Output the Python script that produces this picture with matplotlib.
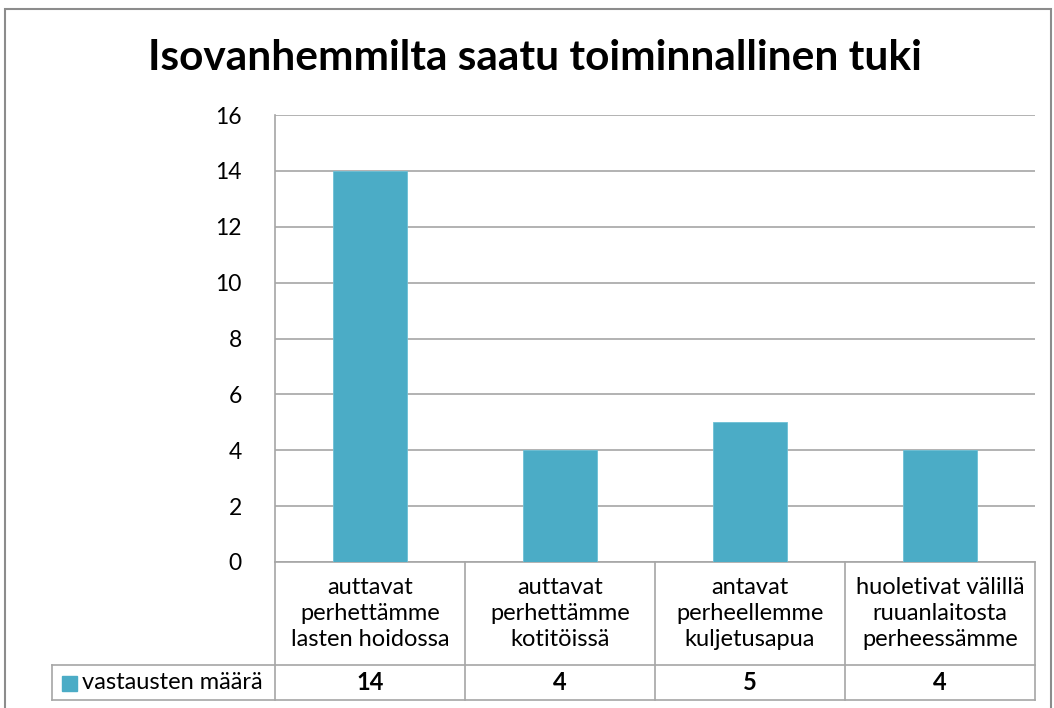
import matplotlib
matplotlib.use("Agg")
import matplotlib.pyplot as plt
import matplotlib.transforms as mtransforms
from matplotlib.patches import Rectangle

TITLE = "Isovanhemmilta saatu toiminnallinen tuki"
CATEGORIES = [
    "auttavat\nperhettämme\nlasten hoidossa",
    "auttavat\nperhettämme\nkotitöissä",
    "antavat\nperheellemme\nkuljetusapua",
    "huoletivat välillä\nruuanlaitosta\nperheessämme",
]
SERIES_NAME = "vastausten määrä"
VALUES = [14, 4, 5, 4]
Y_TICKS = [0, 2, 4, 6, 8, 10, 12, 14, 16]

BAR_COLOR = "#4BACC6"
GRID_COLOR = "#a6a6a6"
FONT = "Lato"

W, H = 1054, 708
fig = plt.figure(figsize=(W / 100, H / 100), dpi=100)

# outer chart border
fig.patches.append(Rectangle((5 / W, -0.05), 1046 / W, 1 - 9 / H + 0.05,
                             transform=fig.transFigure, fill=False,
                             edgecolor="#8c8c8c", linewidth=1.5))

fig.text(535 / W, 1 - 58 / H, TITLE, ha="center", va="center",
         fontsize=30.5, fontweight="bold", family=FONT)

ax = fig.add_axes([275 / W, (H - 562) / H, 760 / W, 447 / H])
x = list(range(len(CATEGORIES)))
ax.bar(x, VALUES, width=0.39, color=BAR_COLOR, edgecolor="#6cc0d6",
       linewidth=0.6, zorder=3)
ax.set_xlim(-0.5, len(CATEGORIES) - 0.5)
ax.set_ylim(0, 16)
ax.set_yticks(Y_TICKS)
ax.set_yticklabels([str(t) for t in Y_TICKS], family=FONT, fontsize=16.5)
ax.tick_params(axis="y", length=0, pad=24)
ax.set_xticks([])
ax.grid(axis="y", color=GRID_COLOR, linewidth=1.2, zorder=0)
for s in ["top", "right", "bottom"]:
    ax.spines[s].set_visible(False)
ax.spines["left"].set_color(GRID_COLOR)
ax.spines["left"].set_linewidth(1.2)

# data table under the axis
trans = mtransforms.blended_transform_factory(ax.transData, ax.transAxes)
row1 = (562 - 665) / 447
row2 = (562 - 700) / 447
legend_x = (52 - 275) / 190 - 0.5
line_kw = dict(color=GRID_COLOR, linewidth=1.2, transform=trans, clip_on=False)

ax.plot([-0.5, 3.5], [0, 0], **line_kw)
ax.plot([legend_x, 3.5], [row1, row1], **line_kw)
ax.plot([legend_x, 3.5], [row2, row2], **line_kw)
ax.plot([legend_x, legend_x], [row1, row2], **line_kw)
for b in [i - 0.5 for i in range(len(CATEGORIES) + 1)]:
    ax.plot([b, b], [0, row2], **line_kw)

for i, (cat, val) in enumerate(zip(CATEGORIES, VALUES)):
    ax.text(i, row1 / 2, cat, transform=trans, ha="center", va="center",
            family=FONT, fontsize=17, linespacing=1.3)
    ax.text(i, (row1 + row2) / 2, str(val), transform=trans, ha="center",
            va="center", family=FONT, fontsize=17, fontweight="bold")

ax.add_patch(Rectangle((legend_x + 10 / 190, (row1 + row2) / 2 - 8 / 447),
                       15 / 190, 15 / 447, transform=trans, color=BAR_COLOR,
                       clip_on=False))
ax.text(legend_x + 30 / 190, (row1 + row2) / 2, SERIES_NAME, transform=trans,
        ha="left", va="center", family=FONT, fontsize=17)

fig.savefig("out.png", dpi=100)
